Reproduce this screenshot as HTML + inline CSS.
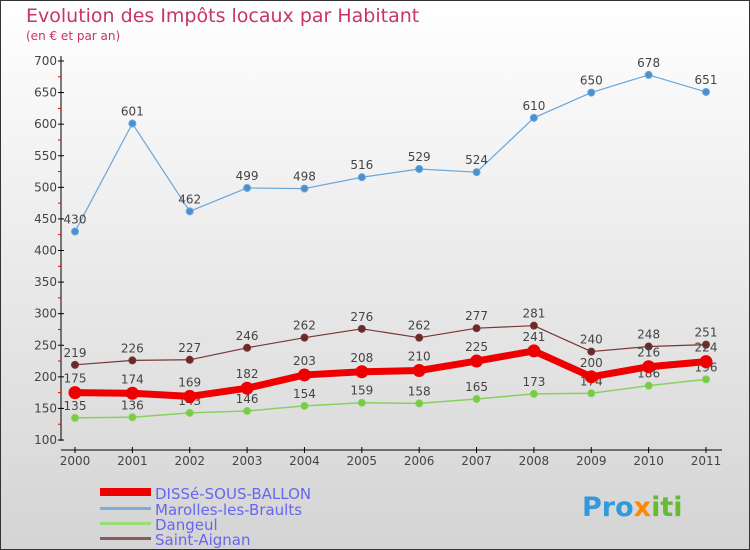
<!DOCTYPE html>
<html><head><meta charset="utf-8"><style>
body{margin:0}
svg{display:block;font-family:"DejaVu Sans","Liberation Sans",sans-serif}
</style></head><body>
<svg id="c" width="750" height="550" viewBox="0 0 750 550">
<defs><linearGradient id="bg" x1="0" y1="0" x2="0" y2="1"><stop offset="0" stop-color="#ffffff"/><stop offset="1" stop-color="#d4d4d4"/></linearGradient></defs>
<rect x="0.5" y="0.5" width="749" height="549" fill="url(#bg)" stroke="#333"/>
<text x="26" y="22" font-size="19" fill="#c8336a">Evolution des Impôts locaux par Habitant</text>
<text x="26" y="40" font-size="12" fill="#c8336a">(en € et par an)</text>
<g id="axes"></g><g id="series"></g>
<g font-size="15" fill="#6666ee">
<rect x="100" y="488" width="51" height="8" fill="#ee0000"/>
<text x="155" y="499">DISSé-SOUS-BALLON</text>
<rect x="100" y="507" width="51" height="3" fill="#7aaedb"/>
<text x="155" y="515">Marolles-les-Braults</text>
<rect x="100" y="522" width="51" height="3" fill="#99dd77"/>
<text x="155" y="530">Dangeul</text>
<rect x="100" y="537" width="51" height="3" fill="#8b5a5a"/>
<text x="155" y="545">Saint-Aignan</text>
</g>
<text x="582" y="516" font-size="27" font-weight="bold" fill="#3399dd">Pro<tspan fill="#ff8800">x</tspan><tspan fill="#66bb33">iti</tspan></text>
</svg>
<script>
const years=[2000,2001,2002,2003,2004,2005,2006,2007,2008,2009,2010,2011];
const disse=[175,174,169,182,203,208,210,225,241,200,216,224];
const marolles=[430,601,462,499,498,516,529,524,610,650,678,651];
const dangeul=[135,136,143,146,154,159,158,165,173,174,186,196];
const aignan=[219,226,227,246,262,276,262,277,281,240,248,251];
const yTicks=[100,150,200,250,300,350,400,450,500,550,600,650,700];
const NS="http://www.w3.org/2000/svg";
const x=i=>75+i*(706-75)/11;
const y=v=>440-(v-100)*(379/600);
function mk(p,tag,a){const e=document.createElementNS(NS,tag);for(const k in a)e.setAttribute(k,a[k]);p.appendChild(e);return e;}
const ax=document.getElementById('axes');
const yl=mk(ax,'line',{x1:61,y1:56,x2:61,y2:441,stroke:'#000'});


const xl=mk(ax,'line',{x1:61,y1:450,x2:722,y2:450,stroke:'#000'});


yTicks.forEach((t,i)=>{
  mk(ax,'line',{x1:58,x2:64,y1:y(t),y2:y(t),stroke:'#000'});
  if(i<yTicks.length-1)mk(ax,'line',{x1:58,x2:61,y1:y(t+25),y2:y(t+25),stroke:'#e00'});
  const tx=mk(ax,'text',{x:57,y:y(t)+4,'font-size':12,fill:'#444','text-anchor':'end'});
  tx.textContent=t;
  
  
});
years.forEach((yr,i)=>{
  mk(ax,'line',{x1:x(i),x2:x(i),y1:447,y2:453,stroke:'#000'});
  const tx=mk(ax,'text',{x:x(i),y:465,'font-size':12,fill:'#444','text-anchor':'middle'});
  tx.textContent=yr;
  
  
});
const sg=document.getElementById('series');
function series(vals,name,col,dot,w,r,labelOff){
  const g=mk(sg,'g',{});
  
  
  const pl=mk(g,'polyline',{points:vals.map((v,i)=>x(i)+','+y(v)).join(' '),fill:'none',stroke:col,'stroke-width':w,'stroke-linejoin':'round'});
  
  
  vals.forEach((v,i)=>{
    const c=mk(g,'circle',{cx:x(i),cy:y(v),r:r,fill:dot,stroke:col,'stroke-width':1});
    
    
    const t=mk(g,'text',{x:x(i),y:y(v)-labelOff,'font-size':12,fill:'#444','text-anchor':'middle'});
    t.textContent=v;
    
    
  });
}
series(marolles,'marolles','#6aa6d8','#4a90d0',1.2,3.5,8);
series(aignan,'saint-aignan','#7a3535','#6a2a2a',1.2,3.5,8);
series(dangeul,'dangeul','#88d060','#77cc44',1.5,3.5,8);
series(disse,'disse','#ee0000','#ee0000',7,6,10);
</script>
</body></html>
